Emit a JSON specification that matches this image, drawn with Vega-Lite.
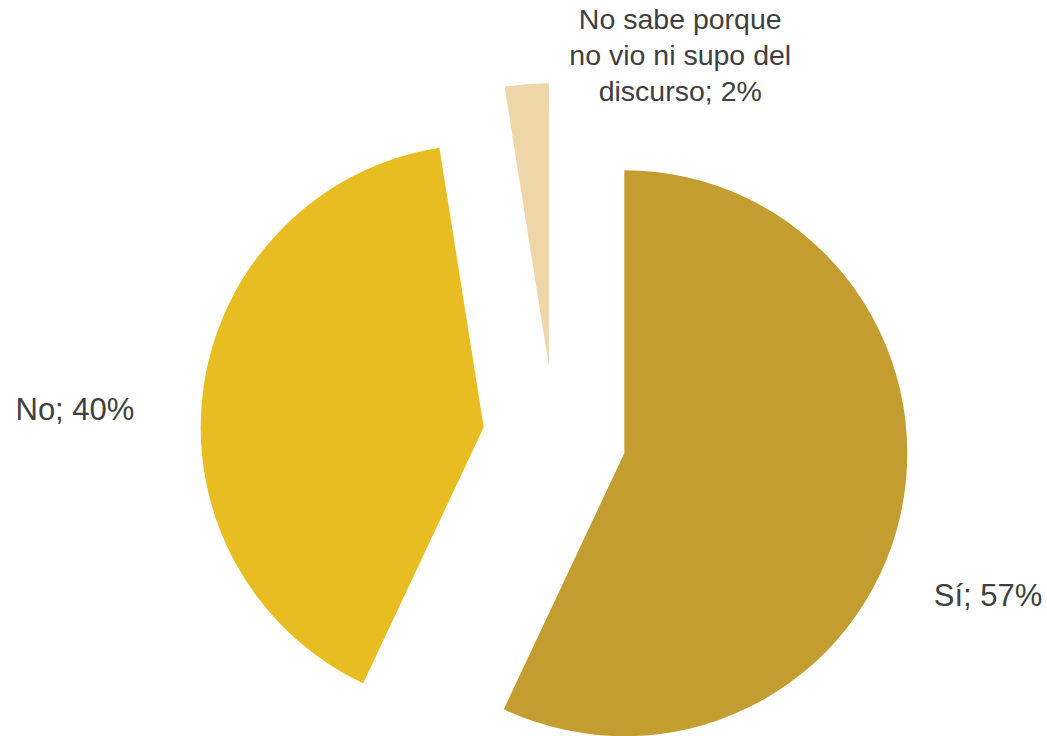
{
  "$schema": "https://vega.github.io/schema/vega-lite/v6.json",
  "width": 985,
  "height": 597,
  "autosize": {"type": "none"},
  "padding": {"left": 62, "top": 139, "right": 0, "bottom": 0},
  "background": "white",
  "view": {"stroke": null},
  "data": {
    "values": [
      {"cat": "Sí", "value": 57.0, "label": "Sí; 57%", "order": 1},
      {"cat": "No", "value": 40.5, "label": "No; 40%", "order": 2},
      {"cat": "No sabe porque no vio ni supo del discurso", "value": 2.5, "label": "No sabe porque\nno vio ni supo del\ndiscurso; 2%", "order": 3}
    ]
  },
  "transform": [
    {"stack": "value", "sort": [{"field": "order", "order": "ascending"}], "groupby": [], "as": ["v0", "v1"]}
  ],
  "layer": [
    {
      "transform": [{"filter": "datum.order == 1"}],
      "mark": {"type": "arc", "outerRadius": 283, "xOffset": 69.8, "yOffset": 15.7},
      "encoding": {
        "theta": {"field": "v0", "type": "quantitative", "scale": {"domain": [0, 100]}},
        "theta2": {"field": "v1"},
        "color": {"field": "cat", "type": "nominal", "legend": null,
          "scale": {"domain": ["Sí", "No", "No sabe porque no vio ni supo del discurso"], "range": ["#C39D30", "#E7BD22", "#EED6A8"]}}
      }
    },
    {
      "transform": [{"filter": "datum.order == 2"}],
      "mark": {"type": "arc", "outerRadius": 283, "xOffset": -70.8, "yOffset": -10.3},
      "encoding": {
        "theta": {"field": "v0", "type": "quantitative", "scale": {"domain": [0, 100]}},
        "theta2": {"field": "v1"},
        "color": {"field": "cat", "type": "nominal", "legend": null}
      }
    },
    {
      "transform": [{"filter": "datum.order == 3"}],
      "mark": {"type": "arc", "outerRadius": 283, "xOffset": -5.6, "yOffset": -71.3},
      "encoding": {
        "theta": {"field": "v0", "type": "quantitative", "scale": {"domain": [0, 100]}},
        "theta2": {"field": "v1"},
        "color": {"field": "cat", "type": "nominal", "legend": null}
      }
    },
    {
      "mark": {"type": "text", "radius": 462, "fontSize": 31, "font": "Liberation Sans", "color": "#404040", "align": "center", "baseline": "middle"},
      "encoding": {
        "theta": {"field": "value", "type": "quantitative", "stack": true, "bandPosition": 0.537, "scale": {"domain": [0, 100]}},
        "order": {"field": "order"},
        "text": {"condition": {"test": "datum.order == 1", "field": "label", "type": "nominal"}, "value": ""}
      }
    },
    {
      "mark": {"type": "text", "radius": 480.3, "fontSize": 31, "font": "Liberation Sans", "color": "#404040", "align": "center", "baseline": "middle"},
      "encoding": {
        "theta": {"field": "value", "type": "quantitative", "stack": true, "bandPosition": 0.4663, "scale": {"domain": [0, 100]}},
        "order": {"field": "order"},
        "text": {"condition": {"test": "datum.order == 2", "field": "label", "type": "nominal"}, "value": ""}
      }
    },
    {
      "mark": {"type": "text", "radius": 436.2, "thetaOffset": 0.371, "fontSize": 28.5, "lineHeight": 36, "lineBreak": "\n", "font": "Liberation Sans", "color": "#404040", "align": "center", "baseline": "middle"},
      "encoding": {
        "theta": {"field": "value", "type": "quantitative", "stack": true, "scale": {"domain": [0, 100]}},
        "order": {"field": "order"},
        "text": {"condition": {"test": "datum.order == 3", "field": "label", "type": "nominal"}, "value": ""}
      }
    }
  ]
}
